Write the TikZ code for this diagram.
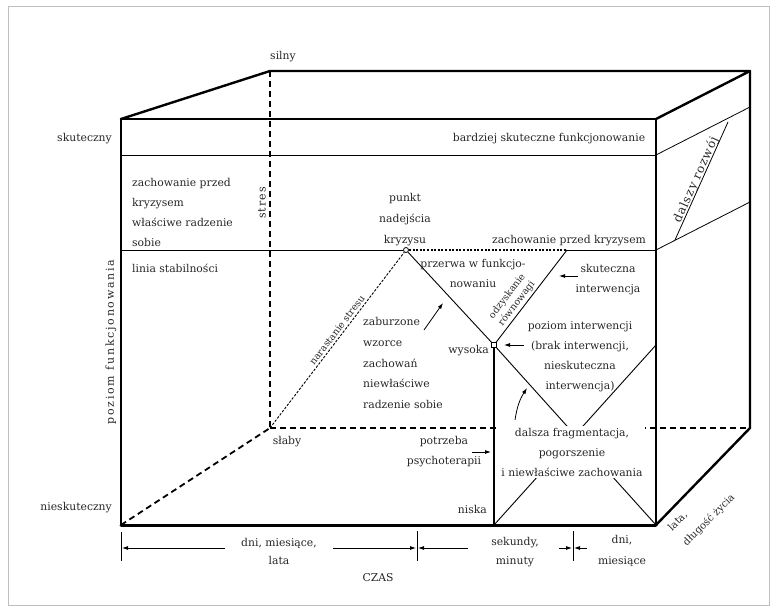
\documentclass[tikz,border=0pt]{standalone}
\usepackage{fontspec}
\setmainfont{DejaVu Serif}
\usetikzlibrary{arrows.meta}

\begin{document}
\begin{tikzpicture}[x=1pt,y=-1pt,
  box/.style={line width=2.4pt, line cap=round, line join=round},
  hidden/.style={line width=1.8pt, dash pattern=on 6pt off 4pt},
  inner/.style={line width=0.9pt},
  faceline/.style={line width=0.8pt},
  dotline/.style={line width=1.1pt, dash pattern=on 2pt off 1.6pt},
  stressline/.style={line width=0.9pt, dash pattern=on 2.5pt off 1.5pt},
  lbl/.style={font=\fontsize{10.8}{20}\selectfont, inner sep=1pt, align=center, text=black!85},
  lblleft/.style={lbl, align=left},
  small/.style={font=\fontsize{9.5}{12}\selectfont, inner sep=1pt, align=center, text=black!85},
  arr/.style={-{Latex[length=6pt,width=4pt]}, line width=0.8pt},
  tick/.style={line width=0.8pt},
  marker/.style={draw, fill=white, inner sep=0pt, minimum size=5pt, line width=0.8pt},
]
\useasboundingbox (0,0) rectangle (777,612);
\draw[black!25, line width=0.8pt] (8.5,6.5) rectangle (769.5,605.5);

% corners of the box
\coordinate (FTL) at (121,119);
\coordinate (FTR) at (656,119);
\coordinate (FBR) at (656,525);
\coordinate (FBL) at (121,525);
\coordinate (BTL) at (270,71);
\coordinate (BTR) at (750,71);
\coordinate (BBR) at (750,428);
\coordinate (BBL) at (270,428);

% hidden edges
\draw[hidden] (BTL) -- (BBL);
\draw[hidden] (BBL) -- (BBR);
\draw[hidden] (FBL) -- (BBL);

% bands on the front face
\coordinate (L155) at (121,155);
\coordinate (R155) at (656,155);
\coordinate (L250) at (121,250);
\coordinate (R250) at (656,250);
\draw[inner] (L155) -- (R155);

% bands on the side face
\coordinate (S1a) at (750,107);
\coordinate (S2a) at (750,202);
\draw[faceline] (R155) -- (S1a);
\draw[faceline] (R250) -- (S2a);
\coordinate (G0) at (675,240);
\coordinate (G1) at (728,122);
\draw[faceline] (G0) -- (G1);

% crisis curve
\node[marker, circle] (cp) at (406,250) {};
\node[marker, rectangle, minimum size=4.5pt] (lp) at (494,345) {};
\coordinate (rv) at (567,250);
\coordinate (X2) at (656,345);
\coordinate (NB) at (494,525);
\draw[inner] (L250) -- (cp);
\draw[dotline] (cp) -- (rv);
\draw[inner] (rv) -- (R250);
\draw[inner] (cp) -- (lp);
\draw[inner] (lp) -- (rv);
\draw[inner] (lp) -- (FBR);
\draw[inner] (X2) -- (NB);
\draw[line width=1.1pt] (lp) -- (NB);
\draw[stressline] (BBL) -- (cp);

% box edges
\draw[box] (FTL) -- (FTR) -- (FBR);
\draw[box] (FTL) -- (FBL);
\draw[box, line width=3pt] (FBL) -- (FBR);
\draw[box] (FTL) -- (BTL) -- (BTR) -- (FTR);
\draw[box] (BTR) -- (BBR) -- (FBR);

% axis labels
\node[lbl] (silny) at (283,57) {silny};
\node[lbl] (slaby) at (287,442) {słaby};
\node[lbl, anchor=east] (skut) at (113,139) {skuteczny};
\node[lbl, anchor=east] (nieskut) at (113,508) {nieskuteczny};
\node[small, font=\fontsize{11}{12}\selectfont\addfontfeature{LetterSpace=16}, rotate=90] (poziom) at (111,342) {poziom funkcjonowania};
\node[small, font=\fontsize{11}{12}\selectfont\addfontfeature{LetterSpace=10}, rotate=90] (stres) at (262,203) {stres};
\node[small, rotate=52.6] (narast) at (337,330) {narastanie stresu};
\node[lbl, font=\fontsize{12}{14}\selectfont\addfontfeature{LetterSpace=8}, rotate=65.8] (rozwoj) at (696,180) {dalszy rozwój};

% texts on the front face
\node[lbl] (bardziej) at (549,139) {bardziej skuteczne funkcjonowanie};
\node[lblleft, anchor=west] (przed) at (131,212) {zachowanie przed\\kryzysem\\właściwe radzenie\\sobie};
\node[lbl, anchor=west] (linia) at (131,268) {linia stabilności};
\node[lbl, font=\fontsize{10.8}{21}\selectfont] (punkt) at (405,220) {punkt\\nadejścia\\kryzysu};
\node[lbl] (zprzed) at (569,241) {zachowanie przed kryzysem};
\node[lbl] (przerwa) at (473,273) {przerwa w funkcjo-\\nowaniu};
\node[small, rotate=52.5] (odzysk) at (512,300) {odzyskanie\\równowagi};
\node[lbl] (skutint) at (608,280) {skuteczna\\interwencja};
\node[lbl] (pozint) at (580,357) {poziom interwencji\\(brak interwencji,\\nieskuteczna\\interwencja)};
\node[lblleft, anchor=west, font=\fontsize{10.8}{20.7}\selectfont] (zab) at (362,363) {zaburzone\\wzorce\\zachowań\\niewłaściwe\\radzenie sobie};
\node[lbl, anchor=east] (wysoka) at (490,351) {wysoka};
\node[lbl, anchor=east] (niska) at (488,509) {niska};
\node[lbl] (potrz) at (444,452) {potrzeba\\psychoterapii};
\node[lbl, fill=white, inner sep=2pt] (dalsza) at (572,452) {dalsza fragmentacja,\\pogorszenie\\i niewłaściwe zachowania};

% pointers
\coordinate (a1s) at (578,276); \coordinate (a1e) at (559,276);
\draw[arr] (a1s) -- (a1e);
\coordinate (a2s) at (524,345); \coordinate (a2e) at (504,345);
\draw[arr] (a2s) -- (a2e);
\coordinate (a3s) at (424,330); \coordinate (a3e) at (443,303);
\draw[arr] (a3s) -- (a3e);
\coordinate (a4s) at (472,452); \coordinate (a4e) at (491,452);
\draw[arr] (a4s) -- (a4e);
\coordinate (a5s) at (515,420); \coordinate (a5e) at (527,388);
\draw[arr] (a5s) to[bend left=12] (a5e);

% time axis
\coordinate (t0a) at (121,532); \coordinate (t0b) at (121,561);
\coordinate (t1a) at (417,531); \coordinate (t1b) at (417,561);
\coordinate (t2a) at (573,531); \coordinate (t2b) at (573,561);
\draw[tick] (t0a) -- (t0b);
\draw[tick] (t1a) -- (t1b);
\draw[tick] (t2a) -- (t2b);
\coordinate (b1s) at (225,548); \coordinate (b1e) at (122,548);
\coordinate (b2s) at (333,548); \coordinate (b2e) at (416,548);
\coordinate (b3s) at (468,548); \coordinate (b3e) at (418,548);
\coordinate (b4s) at (559,548); \coordinate (b4e) at (572,548);
\coordinate (b5s) at (587,548); \coordinate (b5e) at (574,548);
\draw[arr] (b1s) -- (b1e);
\draw[arr] (b2s) -- (b2e);
\draw[arr] (b3s) -- (b3e);
\draw[arr] (b4s) -- (b4e);
\draw[arr] (b5s) -- (b5e);
\node[lbl, font=\fontsize{10.8}{18}\selectfont] (dml) at (279,551) {dni, miesiące,\\lata};
\node[lbl] (czas) at (378,578) {CZAS};
\node[lbl, font=\fontsize{10.8}{19}\selectfont] (sek) at (515,552) {sekundy,\\minuty};
\node[lbl, font=\fontsize{10.8}{21}\selectfont] (dm) at (622,551) {dni,\\miesiące};
\node[small, font=\fontsize{10}{21}\selectfont, align=left, rotate=45, anchor=north west] (zycie) at (665,526) {lata,\\długość życia};
\end{tikzpicture}
\end{document}
